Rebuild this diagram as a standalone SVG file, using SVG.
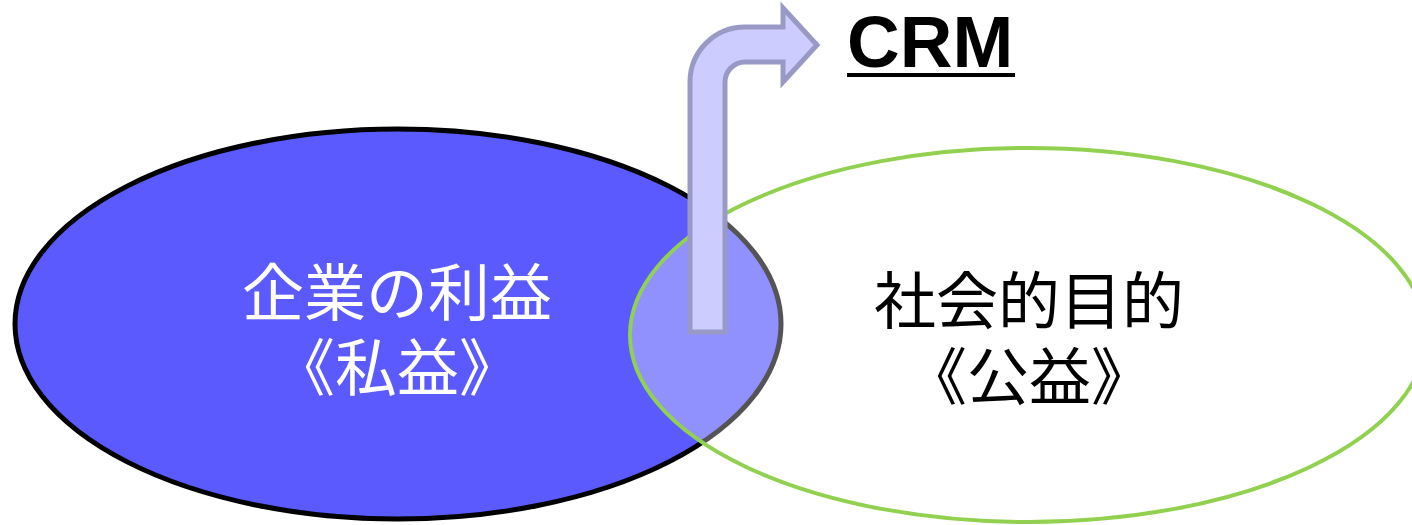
<svg xmlns="http://www.w3.org/2000/svg" width="1412" height="525" viewBox="0 0 1412 525">
  <style>
    .jp { font-family: "Noto Sans CJK JP", "Noto Sans CJK SC", sans-serif; font-size: 62px; text-anchor: middle; }
    .white { fill: #ffffff; }
    .black { fill: #000000; }
    .crm { font-family: "Liberation Sans", Arial, sans-serif; font-weight: bold; font-size: 73px; fill: #000000; }
  </style>
  <rect x="0" y="0" width="1412" height="525" fill="#ffffff"/>
  <g id="private-interest">
    <ellipse cx="398" cy="324" rx="383" ry="195" fill="#5a5aff" stroke="#000000" stroke-width="5"/>
  </g>
  <g id="public-interest">
    <ellipse cx="1028" cy="335" rx="398" ry="187" fill="#ffffff" fill-opacity="0.33" stroke="#92d050" stroke-width="4"/>
  </g>
  <g id="connectors">
    <path d="M690,332 L690,82 A55,55 0 0 1 745,27 L783,27 L783,8 L817,45 L783,82 L783,62 L745,62 A20,20 0 0 0 725,82 L725,332 Z" fill="#ccccff" stroke="#9999c6" stroke-width="5" stroke-linejoin="miter"/>
  </g>
  <g id="crm">
    <text class="crm" x="847" y="67">CRM</text>
    <line x1="847" y1="75" x2="1015" y2="75" stroke="#000000" stroke-width="4"/>
  </g>
  <g id="private-label">
    <text class="jp white"><tspan x="397" y="316">企業の利益</tspan><tspan x="397" y="391">《私益》</tspan></text>
  </g>
  <g id="public-label">
    <text class="jp black"><tspan x="1029" y="324">社会的目的</tspan><tspan x="1029" y="400">《公益》</tspan></text>
  </g>
</svg>
